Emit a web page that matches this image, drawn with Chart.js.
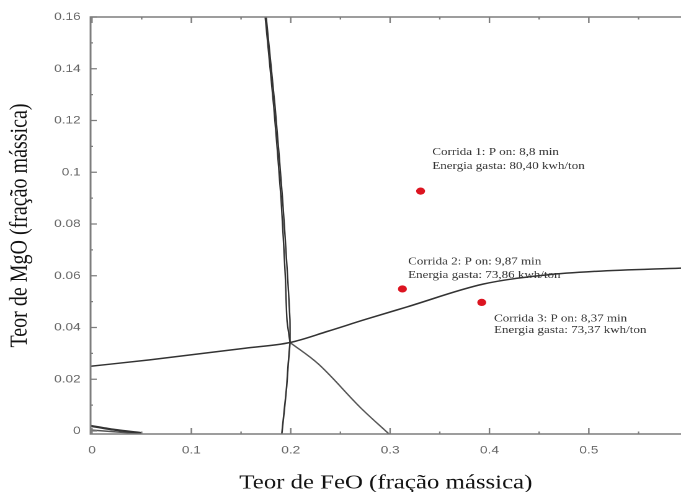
<!DOCTYPE html>
<html><head><meta charset="utf-8">
<script src="https://cdn.jsdelivr.net/npm/chart.js@4.4.1/dist/chart.umd.min.js"></script>
<style>
html,body{margin:0;padding:0;background:#fff;overflow:hidden;width:686px;height:492px;}
#wrap{position:absolute;left:0;top:0;width:553px;height:492px;transform:scaleX(1.2405);transform-origin:0 0;}
canvas{display:block;}
</style></head><body>
<div id="wrap"><canvas id="c" width="553" height="492"></canvas></div>
<script>
// ---- tick values and labels ----
const xTickValues = [0, 0.1, 0.2, 0.3, 0.4, 0.5];
const xTickLabels = ['0', '0.1', '0.2', '0.3', '0.4', '0.5'];
const yTickValues = [0, 0.02, 0.04, 0.06, 0.08, 0.1, 0.12, 0.14, 0.16];
const yTickLabels = ['0', '0.02', '0.04', '0.06', '0.08', '0.1', '0.12', '0.14', '0.16'];

// ---- phase boundary curves (FeO, MgO) ----
const upperA_FeO = [0.1735, 0.1743, 0.183, 0.1903, 0.1945, 0.1962, 0.1993];
const upperA_MgO = [0.165, 0.16, 0.125, 0.0895, 0.06, 0.043, 0.0342];
const upperB_FeO = [0.1745, 0.1753, 0.1843, 0.1918, 0.1968, 0.1992, 0.1993];
const upperB_MgO = [0.165, 0.16, 0.125, 0.0895, 0.06, 0.043, 0.0342];
const lower_FeO = [0.1993, 0.1975, 0.1959, 0.1935, 0.1910];
const lower_MgO = [0.0342, 0.0260, 0.0172, 0.0080, -0.0012];
const horiz_FeO = [-0.002, 0.058, 0.154, 0.1993, 0.237, 0.2742, 0.3174, 0.394, 0.457, 0.507, 0.595];
const horiz_MgO = [0.0250, 0.0275, 0.0320, 0.0342, 0.0385, 0.0430, 0.0480, 0.0568, 0.0603, 0.0617, 0.0630];
const diag_FeO = [0.1993, 0.2275, 0.2708, 0.2990];
const diag_MgO = [0.0342, 0.0260, 0.0088, -0.0012];
const cornerA_FeO = [-0.002, 0.02, 0.05];
const cornerA_MgO = [0.0020, 0.0006, -0.0008];
const cornerB_FeO = [-0.002, 0.05];
const cornerB_MgO = [0.0004, -0.0011];

// ---- experimental runs ----
const runFeO = [0.3307, 0.3124, 0.3922];
const runMgO = [0.0927, 0.0549, 0.0497];
const runTitles = ['Corrida 1: P on: 8,8 min', 'Corrida 2: P on: 9,87 min', 'Corrida 3: P on: 8,37 min'];
const runEnergy = ['Energia gasta: 80,40 kwh/ton', 'Energia gasta: 73,86 kwh/ton', 'Energia gasta: 73,37 kwh/ton'];

const xTitle = 'Teor de FeO (fração mássica)';
const yTitle = 'Teor de MgO (fração mássica)';

function pts(xs, ys) { return xs.map((x, i) => ({x: x, y: ys[i]})); }
function lineDs(xs, ys, w, col, mode) {
  const d = {data: pts(xs, ys), showLine: true, borderColor: col || '#333', borderWidth: w || 1.3,
          pointRadius: 0, pointHoverRadius: 0, tension: 0.2, fill: false};
  if (mode === 'mono') { d.cubicInterpolationMode = 'monotone'; }
  if (mode === 'linear') { d.tension = 0; }
  return d;
}

// label offsets relative to the run markers (canvas px)
const labelOffsets = [{dx: 9.4, dy1: -39, dy2: -25}, {dx: 4.6, dy1: -27, dy2: -13.5}, {dx: 9.9, dy1: 16.5, dy2: 28}];

const framePlugin = {
  id: 'frame',
  afterDatasetsDraw(chart) {
    const ctx = chart.ctx, a = chart.chartArea;
    const xs = chart.scales.x, ys = chart.scales.y;
    ctx.save();
    // annotations
    const meta = chart.getDatasetMeta(0);
    ctx.fillStyle = '#333';
    ctx.font = '10.5px "Liberation Serif", "Times New Roman", serif';
    ctx.textAlign = 'left';
    ctx.textBaseline = 'middle';
    meta.data.forEach((el, i) => {
      const o = labelOffsets[i];
      ctx.fillText(runTitles[i], el.x + o.dx, el.y + o.dy1);
      ctx.fillText(runEnergy[i], el.x + o.dx, el.y + o.dy2);
    });
    // frame
    ctx.strokeStyle = '#7d7d7d';
    ctx.lineWidth = 1.5;
    ctx.beginPath();
    ctx.moveTo(a.right, a.top); ctx.lineTo(a.left, a.top); ctx.lineTo(a.left, a.bottom); ctx.lineTo(a.right, a.bottom);
    ctx.stroke();
    // inward ticks
    ctx.lineWidth = 1.2;
    ctx.beginPath();
    const xStep = xTickValues[1] - xTickValues[0];
    for (let k = 0; ; k++) {
      const v = xTickValues[0] + k * xStep / 2;
      if (v > xs.max) break;
      const p = xs.getPixelForValue(v);
      const len = (k % 2 === 0) ? 6 : 2.5;
      ctx.moveTo(p, a.bottom); ctx.lineTo(p, a.bottom - len);
      ctx.moveTo(p, a.top); ctx.lineTo(p, a.top + len);
    }
    const yStep = yTickValues[1] - yTickValues[0];
    for (let k = 0; ; k++) {
      const v = yTickValues[0] + k * yStep / 2;
      if (v > ys.max + 1e-9) break;
      const p = ys.getPixelForValue(v);
      const len = (k % 2 === 0) ? 5 : 2;
      ctx.moveTo(a.left, p); ctx.lineTo(a.left + len, p);
    }
    ctx.stroke();
    ctx.restore();
  }
};

new Chart(document.getElementById('c'), {
  type: 'scatter',
  data: {
    datasets: [
      {data: pts(runFeO, runMgO), pointRadius: 3.6, pointBackgroundColor: '#dc1420', pointBorderColor: '#dc1420', pointBorderWidth: 0, showLine: false},
      lineDs(upperA_FeO, upperA_MgO, 1.2),
      lineDs(upperB_FeO, upperB_MgO, 1.2),
      lineDs(lower_FeO, lower_MgO, 1.3),
      lineDs(horiz_FeO, horiz_MgO, 1.5, '#333', 'mono'),
      lineDs(diag_FeO, diag_MgO, 1.3, '#555', 'mono'),
      lineDs(cornerA_FeO, cornerA_MgO, 2.2, '#333'),
      lineDs(cornerB_FeO, cornerB_MgO, 1.5, '#555')
    ]
  },
  options: {
    responsive: false,
    animation: false,
    devicePixelRatio: 2,
    layout: {padding: {top: 17, right: 0, bottom: 0, left: 0}},
    plugins: {legend: {display: false}, tooltip: {enabled: false}},
    scales: {
      x: {
        type: 'linear', min: -0.00144, max: 0.5928,
        afterFit: s => { s.height = 58; },
        afterBuildTicks: s => { s.ticks = xTickValues.map(v => ({value: v})); },
        grid: {display: false, drawTicks: false},
        border: {display: false},
        ticks: {autoSkip: false, maxRotation: 0, padding: 10, color: '#666',
                font: {family: '"Liberation Sans", Arial, sans-serif', size: 11},
                callback: (v, i) => xTickLabels[i]},
        title: {display: true, text: xTitle, color: '#111', padding: {top: 0, bottom: -1},
                font: {family: '"Liberation Serif", "Times New Roman", serif', size: 20, lineHeight: 1}}
      },
      y: {
        type: 'linear', min: -0.00116, max: 0.16,
        afterFit: s => { s.width = 73; },
        afterBuildTicks: s => { s.ticks = yTickValues.map(v => ({value: v})); },
        grid: {display: false, drawTicks: false},
        border: {display: false},
        ticks: {autoSkip: false, padding: 8, color: '#666',
                font: {family: '"Liberation Sans", Arial, sans-serif', size: 11},
                callback: (v, i) => yTickLabels[i]},
        title: {display: true, text: yTitle, color: '#111', padding: {top: 6, bottom: 0},
                font: {family: '"Liberation Serif", "Times New Roman", serif', size: 20, lineHeight: 1}}
      }
    }
  },
  plugins: [framePlugin]
});
</script>
</body></html>
